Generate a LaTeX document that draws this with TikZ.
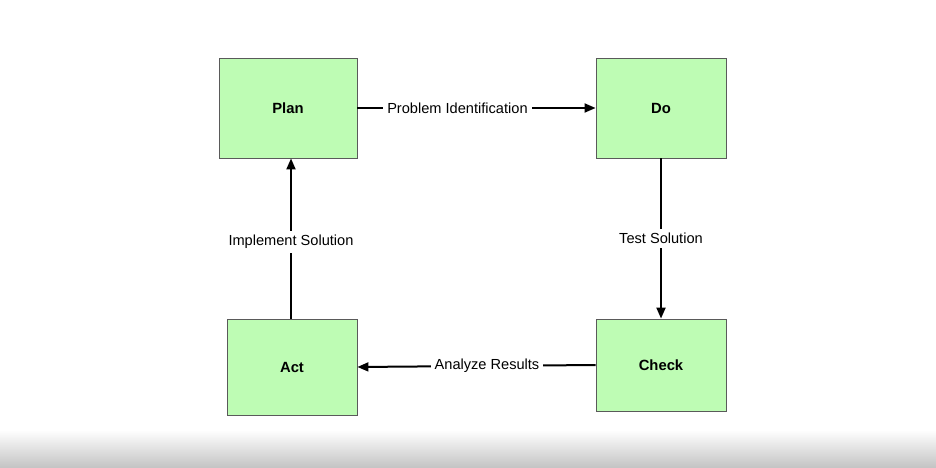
\documentclass[tikz,border=0pt]{standalone}
\usepackage{fontspec}
\setmainfont{Liberation Sans}
\usetikzlibrary{arrows.meta}
\definecolor{boxfill}{RGB}{190,252,180}
\definecolor{boxline}{RGB}{90,90,90}
\definecolor{bandgray}{RGB}{195,195,195}
\tikzset{
  stagebox/.style={draw=boxline, line width=0.9pt, fill=boxfill, font=\bfseries\fontsize{14.8}{17}\selectfont, inner sep=0pt},
  flow/.style={line width=2pt, -{Triangle[length=11pt,width=9pt]}},
  flowlabel/.style={fill=white, font=\fontsize{14.6}{17}\selectfont, inner sep=4pt}
}
\begin{document}
\begin{tikzpicture}[x=1pt,y=-1pt]
\useasboundingbox (0,0) rectangle (936,468);
\fill[white] (0,0) rectangle (936,468);
\shade[top color=white, bottom color=bandgray] (0,430) rectangle (936,468);
\node[stagebox, minimum width=138pt, minimum height=100pt] (plan) at (288,108) {Plan};
\node[stagebox, minimum width=130pt, minimum height=100pt] (do) at (661,108) {Do};
\node[stagebox, minimum width=130pt, minimum height=96pt] (act) at (292,367) {Act};
\node[stagebox, minimum width=130pt, minimum height=92pt] (check) at (661,365) {Check};
\draw[flow] (plan.east) -- node[flowlabel, pos=0.42] {Problem Identification} (do.west);
\draw[flow] (do.south) -- node[flowlabel, pos=0.5] {Test Solution} (check.north);
\draw[flow] (check.west) -- node[flowlabel, pos=0.456] {Analyze Results} (act.east);
\draw[flow] ([xshift=-1pt]act.north) -- node[flowlabel, pos=0.48] {Implement Solution} ([xshift=-1pt]act.north |- plan.south);
\end{tikzpicture}
\end{document}
